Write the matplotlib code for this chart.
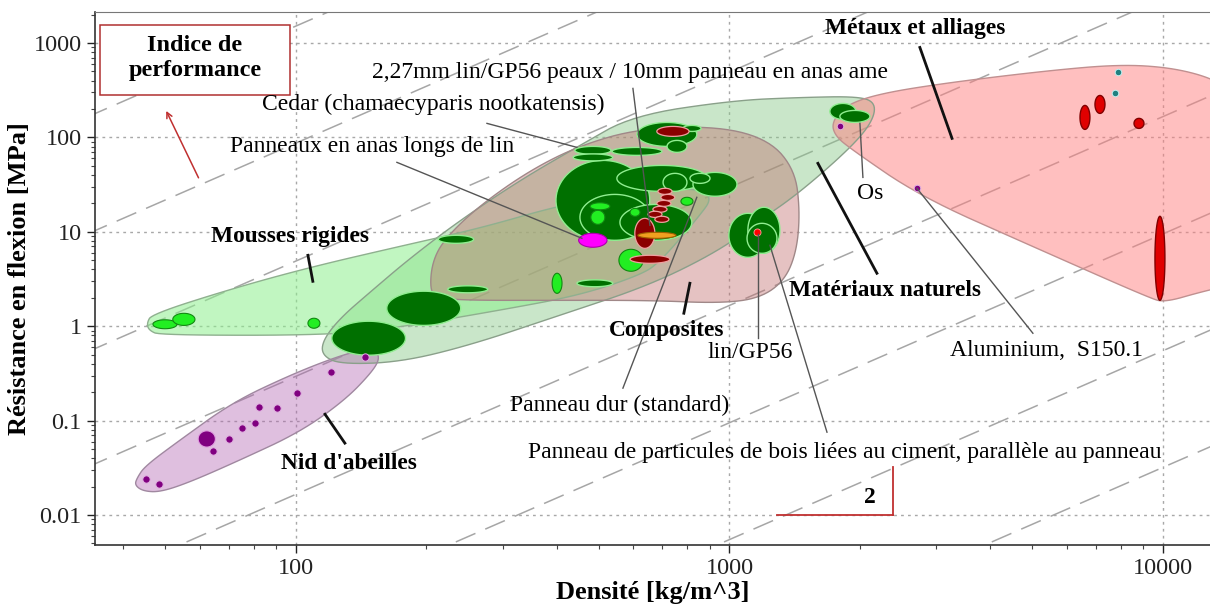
import numpy as np
import matplotlib
matplotlib.use("Agg")
import matplotlib.pyplot as plt
from matplotlib.patches import Rectangle

plt.rcParams['font.family'] = ['Liberation Serif', 'DejaVu Serif']

# ---------------- data ----------------
x_ticks = [100, 1000, 10000]
x_tick_labels = ['100', '1000', '10000']
y_ticks = [0.01, 0.1, 1, 10, 100, 1000]
y_tick_labels = ['0.01', '0.1', '1', '10', '100', '1000']

# performance-index guide lines: sigma = C * rho^2, C given as sigma at rho = 100
guide_sigma_at_100 = [1510, 87, 4.9, 0.295, 0.0166, 0.00095, 5.5e-5, 3.2e-6]

# envelopes (rho, sigma) vertices
env_natural_rho = [114.8, 115.4, 126.4, 148.2, 183.2, 238.9, 328.6, 452, 599, 1019, 1454, 2000, 2178, 2132,
                   1897, 1454, 1176, 950.6, 655.6, 406.4, 252, 173.8, 126.4]
env_natural_sig = [0.493, 0.711, 1.215, 2.29, 5.24, 13.2, 35.1, 82.3, 171, 246, 265, 272, 229, 144,
                   76.5, 26.2, 13.2, 6.37, 2.72, 1.307, 0.629, 0.416, 0.396]
env_foam_rho = [45.3, 46.5, 70.4, 107.7, 173.8, 265.8, 406.4, 621.5, 855, 911, 855, 691, 621.5, 452, 295.5,
                173.8, 119.8, 48.6, 45.8]
env_foam_sig = [1.076, 1.34, 2.46, 4.21, 7.02, 10.9, 19.1, 27.5, 28.9, 22.6, 14.95, 4.76, 3.47, 2.13, 1.477,
                0.976, 0.803, 0.803, 0.907]
env_comp_rho = [203.8, 206, 220.7, 265.8, 346.6, 452, 621.5, 950.6, 1240, 1416, 1454, 1431, 1343, 1176,
                950.6, 655.6, 385.3, 252, 214.9]
env_comp_sig = [2.29, 4.76, 8.54, 19.1, 44.8, 82.3, 124.5, 130.8, 93, 44.8, 16.9, 6.37, 3.07, 1.98,
                1.75, 1.88, 1.88, 1.88, 1.98]
env_metal_rho = [1723, 1847, 2225, 3227, 5487, 7958, 10378, 12840, 14275, 14275, 12170, 10106, 9333, 4934,
                 2750, 1897, 1751]
env_metal_sig = [144, 218, 292, 382, 512, 592, 550, 431, 314, 2.72, 2.29, 1.795, 1.98, 7.20,
                 23.8, 76.5, 105]
env_honey_rho = [42.99, 44.85, 54.0, 71.55, 96.9, 121.7, 140.5, 152.1, 156.2, 149.7, 129.7, 102.1, 74.27,
                 56.95, 48.6, 44.4, 42.5]
env_honey_sig = [0.02463, 0.0330, 0.0622, 0.157, 0.303, 0.4585, 0.557, 0.557, 0.4585, 0.326, 0.1648, 0.0755,
                 0.0382, 0.02235, 0.01751, 0.01795, 0.02077]

# property ranges (rho_lo, rho_hi, sig_lo, sig_hi)
natural_ranges = [
    (398, 655, 8.13, 57.1), (550, 888, 26.8, 50.5), (452, 655, 8.13, 24.9), (559, 819, 8.13, 19.5),
    (612, 841, 80.3, 144), (121, 179, 0.493, 1.13), (162, 240, 1.02, 2.35),
    (997, 1220, 5.37, 15.7), (1103, 1308, 5.93, 18.2), (1098, 1287, 5.92, 12.3),
    (824, 1041, 23.8, 42.6), (811, 902, 32.6, 41.6), (703, 798, 26.8, 41.6),
    (718, 798, 69.4, 92.9), (781, 860, 115.6, 134), (440, 533, 66.1, 80.3), (436, 538, 56.4, 66.8),
    (536, 699, 64.5, 78.3), (213, 257, 7.55, 9.18), (224, 277, 2.26, 2.68), (445, 538, 2.62, 3.10),
    (1705, 1958, 155, 229), (1798, 2109, 144, 193),
]
foam_ranges = [
    (46.8, 53.2, 0.941, 1.17), (52.0, 58.5, 1.02, 1.37), (106.6, 113.6, 0.952, 1.215),
    (390, 411, 2.23, 3.64), (477, 530, 17.1, 20.3), (479, 516, 12.0, 16.9), (590, 622, 14.6, 17.7),
    (773, 824, 19.1, 23.2), (556, 632, 3.82, 6.53),
]
flax_ranges = [
    (680, 807, 102.5, 130.7), (605, 673, 6.68, 13.9), (590, 729, 4.64, 5.64),
    (684, 737, 24.9, 28.9), (695, 748, 21.5, 24.9), (680, 733, 18.6, 21.5), (666, 718, 16.1, 18.6),
    (649, 699, 14.2, 16.5), (673, 725, 12.6, 14.6),
]
hardboard_range = [(615, 753, 8.53, 9.88)]
anas_range = [(449, 522, 6.86, 9.64)]
metal_ranges = [(6437, 6785, 121.5, 218), (6970, 7350, 179.5, 278), (8576, 9040, 124.5, 159),
                (9585, 10106, 1.88, 14.6)]

honey_rho = [45.1, 48.3, 64.3, 70.0, 75.1, 80.4, 82.2, 90.4, 100.5, 120.4, 144.3]
honey_sig = [0.0240, 0.0213, 0.0475, 0.0637, 0.0833, 0.0941, 0.139, 0.1356, 0.1954, 0.326, 0.470]
honey_big_range = [(59.5, 65.2, 0.0525, 0.0780)]
purple_rho = [1798, 2707]
purple_sig = [130.7, 28.9]
teal_rho = [7874, 7750]
teal_sig = [487, 292]
linGP_dot = (1157, 9.88)

# ---------------- helpers ----------------
def chaikin(rho, sig, n=3):
    p = np.column_stack([np.log10(rho), np.log10(sig)])
    for _ in range(n):
        q = np.roll(p, -1, axis=0)
        a = 0.75 * p + 0.25 * q
        b = 0.25 * p + 0.75 * q
        p = np.empty((2 * len(a), 2))
        p[0::2] = a
        p[1::2] = b
    return 10 ** p[:, 0], 10 ** p[:, 1]


def draw_env(ax, rho, sig, fc, alpha, ec):
    x, y = chaikin(rho, sig)
    ax.fill(x, y, facecolor=fc, alpha=alpha, edgecolor='none', zorder=2)
    ax.fill(x, y, facecolor='none', edgecolor=ec, lw=1.0, zorder=2.1)


def draw_ranges(ax, ranges, fc, ec, lw=1.0, z=3):
    t = np.linspace(0, 2 * np.pi, 80)
    for rlo, rhi, slo, shi in ranges:
        cx = 0.5 * (np.log10(rlo) + np.log10(rhi))
        cy = 0.5 * (np.log10(slo) + np.log10(shi))
        a = 0.5 * (np.log10(rhi) - np.log10(rlo))
        b = 0.5 * (np.log10(shi) - np.log10(slo))
        ax.fill(10 ** (cx + a * np.cos(t)), 10 ** (cy + b * np.sin(t)), facecolor=fc,
                edgecolor=ec, lw=lw, zorder=z)


# ---------------- figure ----------------
fig = plt.figure(figsize=(12.1, 6.05), dpi=100)
ax = fig.add_axes([95 / 1210, 60 / 605, 1115 / 1210, 533 / 605])
ax.set_xscale('log')
ax.set_yscale('log')
ax.set_xlim(34.4, 12840)
ax.set_ylim(0.00482, 2128)

ax.grid(which='major', linestyle=(0, (2, 3)), color='#a8a8a8', lw=1.0, zorder=0)

# guide lines
xr = np.array([20, 20000])
for c in guide_sigma_at_100:
    ax.plot(xr, c * (xr / 100.0) ** 2, color='#a6a6a6', lw=1.1, dashes=(14, 7), zorder=1)

# envelopes
draw_env(ax, env_natural_rho, env_natural_sig, '#88c888', 0.45, '#8aa08a')
draw_env(ax, env_foam_rho, env_foam_sig, '#8ef08e', 0.55, '#8fb08f')
draw_env(ax, env_comp_rho, env_comp_sig, '#c06868', 0.40, '#a08888')
draw_env(ax, env_metal_rho, env_metal_sig, '#ff8080', 0.50, '#c09090')
draw_env(ax, env_honey_rho, env_honey_sig, '#b060b0', 0.40, '#a088a0')

# property bubbles
draw_ranges(ax, natural_ranges, '#007000', '#90ee90', 1.0)
draw_ranges(ax, foam_ranges, '#22ee22', '#118811', 0.8, z=3.2)
draw_ranges(ax, flax_ranges, '#8b0000', '#f0a0a0', 0.9, z=3.4)
draw_ranges(ax, hardboard_range, '#f0a020', '#a06000', 0.8, z=3.5)
draw_ranges(ax, anas_range, '#ff00ff', '#aa00aa', 0.8, z=3.5)
draw_ranges(ax, metal_ranges, '#e00000', '#800000', 1.0, z=3.5)
draw_ranges(ax, honey_big_range, '#800080', '#e0a0e0', 0.8, z=3.5)

ax.scatter(honey_rho, honey_sig, s=28, c='#800080', edgecolors='#e0b0e0', linewidths=0.7, zorder=4)
ax.scatter(purple_rho, purple_sig, s=22, c='#800080', edgecolors='#e0b0e0', linewidths=0.7, zorder=4)
ax.scatter(teal_rho, teal_sig, s=22, c='#208080', edgecolors='#c0f0f0', linewidths=0.7, zorder=4)
ax.scatter([linGP_dot[0]], [linGP_dot[1]], s=26, c='#ff0000', edgecolors='#ffa0a0', linewidths=0.6, zorder=4)

# ---------------- annotations ----------------
fs_txt = 17
fs_bold = 16.8
thin = dict(color='#555555', lw=1.0, zorder=5)
thick = dict(color='#111111', lw=2.0, zorder=5)

ax.add_patch(Rectangle((0.0045, 0.8443), 0.1704, 0.1313, transform=ax.transAxes, fc='white',
                       ec='#b03030', lw=1.1, zorder=6))
ax.text(0.0897, 0.9137, 'Indice de\nperformance', transform=ax.transAxes, ha='center', va='center',
        fontsize=17.5, fontweight='bold', linespacing=1.2, zorder=7)
ax.annotate('', xy=(49.9, 202.8), xytext=(60.0, 35.1),
            arrowprops=dict(arrowstyle='->', color='#c03030', lw=1.1), zorder=6)

ax.text(589.5, 487, '2,27mm lin/GP56 peaux / 10mm panneau en anas ame', ha='center', va='center',
        fontsize=fs_txt, zorder=6)
ax.plot([599, 655.6], [330, 11.7], **thin)

ax.text(207, 223.5, 'Cedar (chamaecyparis nootkatensis)', ha='center', va='center', fontsize=fs_txt, zorder=6)
ax.plot([275.9, 444.8], [140.7, 78.4], **thin)

ax.text(149.7, 80.3, 'Panneaux en anas longs de lin', ha='center', va='center', fontsize=fs_txt, zorder=6)
ax.plot([171, 456.7], [54.4, 8.54], **thin)

ax.text(96.9, 8.96, 'Mousses rigides', ha='center', va='center', fontsize=fs_bold, fontweight='bold', zorder=6)
ax.plot([106.6, 109.4], [5.64, 2.99], **thick)

ax.text(132.5, 0.0355, "Nid d'abeilles", ha='center', va='center', fontsize=fs_bold, fontweight='bold', zorder=6)
ax.plot([116.7, 129.7], [0.117, 0.0578], **thick)

ax.text(717.6, 0.907, 'Composites', ha='center', va='center', fontsize=fs_bold, fontweight='bold', zorder=6)
ax.plot([785, 810.6], [1.373, 2.85], **thick)

ax.text(559, 0.146, 'Panneau dur (standard)', ha='center', va='center', fontsize=fs_txt, zorder=6)
ax.plot([568, 841], [0.221, 23.2], **thin)

ax.text(2284, 2.40, 'Matériaux naturels', ha='center', va='center', fontsize=fs_bold, fontweight='bold', zorder=6)
ax.plot([2189, 1600], [3.64, 53.1], **thick)

ax.text(2679, 1424, 'Métaux et alliages', ha='center', va='center', fontsize=fs_bold, fontweight='bold', zorder=6)
ax.plot([2750, 3262], [896, 97.6], **thick)

ax.text(2109, 25.5, 'Os', ha='center', va='center', fontsize=fs_txt, zorder=6)
ax.plot([2032, 2000], [37.7, 140.7], **thin)

ax.text(1115, 0.531, 'lin/GP56', ha='center', va='center', fontsize=fs_txt, zorder=6)
ax.plot([1163, 1163], [0.746, 9.41], **thin)

ax.text(1847, 0.0464, 'Panneau de particules de bois liées au ciment, parallèle au panneau',
        ha='center', va='center', fontsize=fs_txt, zorder=6)
ax.plot([1679, 1240], [0.0755, 7.20], **thin)

ax.text(5400, 0.557, 'Aluminium,  S150.1', ha='center', va='center', fontsize=fs_txt, zorder=6)
ax.plot([5012, 2707], [0.843, 28.9], **thin)

# slope triangle
ax.plot([1287, 2384], [0.01, 0.01], color='#c03030', lw=1.3, zorder=5)
ax.plot([2384, 2384], [0.01, 0.0322], color='#c03030', lw=1.3, zorder=5)
ax.text(2109, 0.0155, '2', ha='center', va='center', fontsize=fs_bold, fontweight='bold', zorder=6)

# ---------------- axes styling ----------------
ax.set_xticks(x_ticks)
ax.set_xticklabels(x_tick_labels)
ax.set_yticks(y_ticks)
ax.set_yticklabels(y_tick_labels)
ax.tick_params(which='major', direction='out', length=6, width=1, labelsize=17.5, colors='#222222')
ax.tick_params(which='minor', direction='out', length=3, width=0.8, colors='#444444')
ax.tick_params(axis='y', which='minor', labelleft=False)
ax.tick_params(axis='x', which='minor', labelbottom=False)
for s in ['left', 'bottom']:
    ax.spines[s].set_color('#333333')
    ax.spines[s].set_linewidth(1.2)
ax.spines['top'].set_color('#777777')
ax.spines['right'].set_visible(False)

ax.set_xlabel('Densité [kg/m^3]', fontsize=19, fontweight='bold', labelpad=1)
ax.set_ylabel('Résistance en flexion [MPa]', fontsize=19, fontweight='bold', labelpad=2)

fig.savefig('out.png', dpi=100)
